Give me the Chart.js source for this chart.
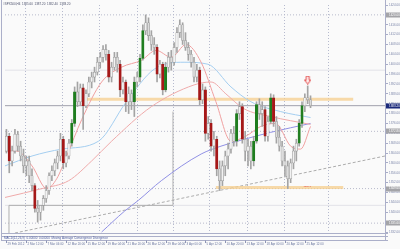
<!DOCTYPE html>
<html><head><meta charset="utf-8">
<script src="https://cdn.jsdelivr.net/npm/chart.js@4.4.1/dist/chart.umd.min.js"></script>
<style>html,body{margin:0;padding:0;background:#fafafa;overflow:hidden}#wrap{width:400px;height:249px;position:relative}</style>
</head><body><div id="wrap"><canvas id="c" width="400" height="249"></canvas></div>
<script>
// ---- candle data (H4) ----
const open = [1364.8,1370.8,1360.8,1364.8,1371.6,1366.8,1362.8,1358.8,1360.8,1354.8,
1350.8,1341.6,1340.0,1342.8,1345.6,1348.8,1354.8,1356.8,1360.0,1362.8,
1369.6,1360.0,1362.8,1368.0,1376.0,1388.8,1384.8,1390.4,1383.2,1388.0,
1392.8,1394.8,1396.8,1400.8,1402.8,1406.0,1404.0,1394.8,1398.8,1402.8,
1400.0,1389.6,1392.8,1384.8,1388.0,1384.8,1392.8,1394.8,1402.4,1413.6,
1416.8,1411.6,1408.0,1406.8,1396.0,1400.0,1389.6,1398.8,1402.8,1400.8,
1406.8,1412.8,1416.0,1409.6,1406.8,1404.0,1400.8,1394.8,1397.6,1385.6,
1389.6,1372.0,1376.0,1366.8,1369.6,1357.6,1352.8,1358.8,1362.8,1365.6,
1372.0,1368.8,1380.0,1382.8,1369.6,1364.8,1366.8,1360.8,1368.8,1383.6,
1380.0,1381.6,1370.8,1376.8,1386.4,1376.8,1370.4,1366.8,1360.8,1358.8,
1353.6,1360.0,1364.8,1368.0,1376.0,1383.2,1386.4,1385.6];
const high = [1373.6,1372.0,1366.8,1373.6,1372.8,1368.8,1365.6,1362.8,1362.8,1357.6,
1351.6,1344.8,1342.8,1346.8,1350.8,1356.0,1358.8,1361.6,1364.8,1372.0,
1370.8,1364.8,1369.6,1377.6,1390.8,1392.8,1392.0,1392.0,1389.6,1394.8,
1396.8,1398.8,1402.8,1404.8,1407.6,1408.0,1405.6,1400.8,1404.8,1404.8,
1401.6,1394.8,1393.6,1390.8,1389.6,1394.8,1396.8,1404.0,1416.0,1420.0,
1418.8,1413.6,1410.8,1408.0,1401.6,1400.8,1400.8,1404.8,1405.6,1408.8,
1414.8,1418.0,1416.8,1412.8,1408.8,1405.6,1402.8,1400.0,1398.8,1392.0,
1390.8,1378.8,1377.6,1372.8,1370.8,1360.8,1360.8,1364.8,1368.0,1373.6,
1374.8,1381.6,1384.8,1384.0,1372.8,1369.6,1368.8,1370.8,1384.8,1386.0,
1384.8,1382.8,1378.8,1388.0,1387.6,1378.8,1374.8,1368.8,1364.8,1360.8,
1361.6,1366.8,1369.6,1377.6,1384.8,1388.0,1391.2,1387.2];
const low = [1364.0,1356.0,1358.8,1364.0,1364.8,1360.8,1356.0,1354.8,1352.0,1348.8,
1340.0,1336.0,1336.8,1340.8,1344.0,1347.2,1352.8,1354.8,1357.6,1360.8,
1357.6,1358.4,1361.6,1366.8,1374.8,1382.8,1383.2,1373.6,1382.4,1386.8,
1390.4,1392.8,1395.6,1398.4,1400.8,1401.6,1392.8,1392.8,1397.6,1396.8,
1386.8,1388.0,1380.8,1380.0,1381.6,1378.8,1390.8,1392.8,1401.6,1412.0,
1409.6,1405.6,1404.0,1392.8,1394.4,1387.6,1388.8,1396.8,1397.6,1399.6,
1404.8,1410.8,1408.0,1405.6,1401.6,1398.8,1392.8,1392.8,1383.6,1384.0,
1368.8,1369.6,1364.8,1362.8,1354.8,1348.8,1350.8,1354.8,1357.6,1364.0,
1366.8,1366.8,1377.6,1368.0,1360.8,1358.8,1357.6,1358.8,1368.0,1377.6,
1374.8,1368.8,1368.8,1376.0,1374.8,1368.0,1364.8,1358.8,1354.8,1349.6,
1352.0,1357.6,1360.8,1366.8,1374.4,1380.8,1384.0,1382.4];
const close = [1370.8,1360.8,1364.8,1371.6,1366.8,1362.8,1358.8,1360.8,1354.8,1350.8,
1341.6,1340.0,1342.8,1345.6,1348.8,1354.8,1356.8,1360.0,1362.8,1369.6,
1360.0,1362.8,1368.0,1376.0,1388.8,1384.8,1390.4,1383.2,1388.0,1392.8,
1394.8,1396.8,1400.8,1402.8,1406.0,1404.0,1394.8,1398.8,1402.8,1400.0,
1389.6,1392.8,1384.8,1388.0,1384.8,1392.8,1394.8,1402.4,1413.6,1416.8,
1411.6,1408.0,1406.8,1396.0,1400.0,1389.6,1398.8,1402.8,1400.8,1406.8,
1412.8,1416.0,1409.6,1406.8,1404.0,1400.8,1394.8,1397.6,1385.6,1389.6,
1372.0,1376.0,1366.8,1369.6,1357.6,1352.8,1358.8,1362.8,1365.6,1372.0,
1368.8,1380.0,1382.8,1369.6,1364.8,1366.8,1360.8,1368.8,1383.6,1380.0,
1381.6,1370.8,1376.8,1386.4,1376.8,1370.4,1366.8,1360.8,1358.8,1353.6,
1360.0,1364.8,1368.0,1376.0,1383.2,1386.4,1385.6,1383.2];

// ---- axis labels ----
const dateLabels = ["29 Feb 2012","2 Mar 12:00","7 Mar 04:00","12 Mar 20:00","15 Mar 12:00","19 Mar 04:00","21 Mar 20:00","26 Mar 12:00","29 Mar 04:00","3 Apr 00:00","5 Apr 12:00","10 Apr 20:00","13 Apr 12:00","18 Apr 00:00","20 Apr 12:00","25 Apr 12:00"];
const dateTickBars = [0,7,14,21,28,35,42,49,56,63,70,77,84,91,98,105];
const priceTicks = [1424,1420,1416,1412,1408,1404,1400,1396,1392,1388,1384,1380,1376,1372,1368,1364,1360,1356,1352,1348,1344,1340,1336,1332];
const gridBars = [6.5,19.5,32.4,46.1,58.7,71.3,84.6,97.5,113.3];

// ---- moving averages ----
const maFastBar = [-0.5,3.7,9.0,14.2,17.7,21.2,26.5,33.5,40.5,47.5,52.7,58.0,63.2,68.5,73.7,79.0,84.2,89.5,94.7,100.0,103.5,107];
const maFastVal = [1364.8,1364.8,1358.8,1349.6,1353.6,1362.8,1377.6,1392.8,1398.8,1401.6,1405.6,1402.8,1408.0,1400.8,1384.8,1368.8,1370.8,1374.8,1376.0,1366.8,1365.6,1374.8];
const maSlowBar = [-0.5,12.5,21.9,30.0,37.0,51.0,66.0,72.0,77.2,83.5,93.0,107];
const maSlowVal = [1346.0,1349.6,1352.8,1360.8,1368.8,1382.8,1391.6,1392.8,1388.0,1382.0,1378.8,1375.6];
const maMidBar = [-0.5,9.0,19.5,32.4,42.2,52.0,62.5,70.9,79.0,86.0,96.5,107];
const maMidVal = [1358.8,1362.8,1365.6,1368.8,1384.8,1398.0,1400.8,1400.0,1390.8,1384.8,1380.8,1378.4];
const maLongBar = [33.5,41.5,46.4,54.5,68.5,75.5,82.5,93.0,107];
const maLongVal = [1332.0,1340.4,1344.8,1352.8,1363.6,1366.8,1369.2,1372.4,1376.0];

// ---- drawn objects ----
const currentPrice = 1383.2;
const resistBand = {from: 28.2, to: 122, price: 1385.8};
const supportBand = {from: 73.7, to: 118.5, price: 1350.0};
const pivotLevels = [1420.0, 1372.8, 1349.6, 1335.6];
const faintLevels = [1397.6, 1342.8];
const trendBars = [3.0, 133.2];
const trendVals = [1331.6, 1362.8];
const bracketBars = [0.9, 0.9, 58.6, 58.6];
const bracketVals = [1331.6, 1342.8, 1342.8, 1380.8];
const arrowBar = 106, arrowVal = 1393.6;
const xMin = -0.5, xMax = 133.2;

const bars = open.map((_, i) => i);
const bigMove = 7;
const isBig = i => Math.abs(close[i] - open[i]) >= bigMove;
const bodyColors = bars.map(i => {
  const up = close[i] > open[i];
  if (isBig(i)) return up ? '#1f7d1f' : '#a51818';
  return up ? '#f2f2f2' : '#dcdcdc';
});
const bodyBorders = bars.map(i => isBig(i) ? bodyColors[i] : '#9a9a9a');
const pts = (xs, ys) => xs.map((x, k) => ({x, y: ys[k]}));
const hline = (a, b, v) => [{x: a, y: v}, {x: b, y: v}];

const arrow = document.createElement('canvas'); arrow.width = 7; arrow.height = 9;
(() => { const a = arrow.getContext('2d'); a.strokeStyle = '#e04040'; a.lineWidth = 1; a.fillStyle = '#fff4f4';
  a.beginPath(); a.moveTo(2, 0.5); a.lineTo(5, 0.5); a.lineTo(5, 4.5); a.lineTo(6.5, 4.5); a.lineTo(3.5, 8.5); a.lineTo(0.5, 4.5); a.lineTo(2, 4.5); a.closePath(); a.fill(); a.stroke(); })();

const FONT = 'Liberation Sans';
const lineDs = (data, color, order, extra) => Object.assign({type: 'line', data, borderColor: color, borderWidth: 1, pointRadius: 0, fill: false, order}, extra || {});

const datasets = [
  {type: 'bar', data: bars.map(i => ({x: i, y: [low[i], high[i]]})), backgroundColor: '#a4a4a4', barThickness: 1, grouped: false, order: 2},
  {type: 'bar', data: bars.map(i => ({x: i, y: [open[i], close[i]]})), backgroundColor: bodyColors, borderColor: bodyBorders, borderWidth: 0.6, borderSkipped: false, barThickness: 2.4, grouped: false, order: 1},
  lineDs(pts(maFastBar, maFastVal), '#f0a0a0', 4, {cubicInterpolationMode: 'monotone'}),
  lineDs(pts(maSlowBar, maSlowVal), '#efaaaa', 4, {cubicInterpolationMode: 'monotone'}),
  lineDs(pts(maMidBar, maMidVal), '#a4cef0', 4, {cubicInterpolationMode: 'monotone'}),
  lineDs(pts(maLongBar, maLongVal), '#9090e4', 4, {cubicInterpolationMode: 'monotone'}),
  lineDs(hline(resistBand.from, resistBand.to, resistBand.price), 'rgba(245,205,140,0.75)', 5, {borderWidth: 3}),
  lineDs(hline(supportBand.from, supportBand.to, supportBand.price), 'rgba(245,205,140,0.75)', 5, {borderWidth: 3}),
  lineDs(hline(xMin, xMax, currentPrice), '#a0a0ac', 6),
  lineDs(pts(trendBars, trendVals), '#acacac', 6, {borderDash: [3, 2]}),
  lineDs(pts(bracketBars, bracketVals), '#b0b0b0', 6),
  ...pivotLevels.map(v => lineDs(hline(xMin, xMax, v), '#b8bacb', 7, {borderDash: [1, 2]})),
  ...faintLevels.map(v => lineDs(hline(xMin, xMax, v), '#e2e2e8', 7)),
  {type: 'line', data: [{x: arrowBar, y: arrowVal}], showLine: false, pointStyle: arrow, pointRadius: 4, order: 0}
];

const decor = {
  id: 'decor',
  beforeDatasetsDraw(chart) {
    const {ctx, chartArea: a, scales: {x}} = chart;
    ctx.save();
    ctx.strokeStyle = '#b6bace'; ctx.lineWidth = 1; ctx.setLineDash([1, 2]);
    gridBars.forEach(b => { const px = Math.round(x.getPixelForValue(b)) + 0.5;
      ctx.beginPath(); ctx.moveTo(px, a.top); ctx.lineTo(px, a.bottom); ctx.stroke(); });
    ctx.restore();
  },
  afterDraw(chart) {
    const {ctx, chartArea: a, scales: {x, y}} = chart;
    ctx.save();
    ctx.strokeStyle = '#abafc9'; ctx.lineWidth = 1;
    ctx.beginPath();
    ctx.moveTo(1.5, 0); ctx.lineTo(1.5, 240.5);
    ctx.moveTo(a.right + 0.5, 0); ctx.lineTo(a.right + 0.5, 240.5);
    ctx.moveTo(1, a.bottom + 0.5); ctx.lineTo(388, a.bottom + 0.5);
    ctx.moveTo(1, 236.5); ctx.lineTo(388, 236.5);
    ctx.moveTo(1, 240.5); ctx.lineTo(388, 240.5);
    ctx.stroke();
    // date labels along the time axis
    ctx.font = '3px "' + FONT + '"'; ctx.textBaseline = 'middle'; ctx.textAlign = 'left';
    ctx.strokeStyle = '#8c94b4';
    dateTickBars.forEach((b, k) => {
      const px = Math.round(x.getPixelForValue(b)) + 0.5;
      ctx.beginPath(); ctx.moveTo(px, 240.5); ctx.lineTo(px, 243); ctx.stroke();
      ctx.fillStyle = '#6c78a0'; ctx.fillText(dateLabels[k], px + 1, 244.2);
    });
    const box = (v, bg) => { const py = y.getPixelForValue(v);
      ctx.fillStyle = bg; ctx.fillRect(a.right + 1, Math.round(py) - 2.5, 15, 5);
      ctx.fillStyle = '#ffffff'; ctx.fillText(v.toFixed(2), a.right + 4, py); };
    pivotLevels.forEach(v => box(v, '#a4a4a8'));
    box(currentPrice, '#1b2a7b');
    ctx.fillStyle = '#4a4f6a';
    ctx.fillText('#SPX500,H4  1385.60  1387.20  1382.40  1383.20', 3, 4);
    ctx.fillStyle = '#5060a0';
    ctx.fillText('MACD(12,26,9)  0.00000  0.00000  Moving Average Convergence Divergence', 4, 238.6);
    ctx.fillStyle = '#e05050'; ctx.font = '2.5px "' + FONT + '"';
    ctx.fillText(supportBand.price.toFixed(1), x.getPixelForValue(104.5), y.getPixelForValue(supportBand.price) - 1.5);
    ctx.restore();
  }
};

new Chart(document.getElementById('c'), {
  type: 'bar',
  data: {datasets},
  options: {
    responsive: false, animation: false, devicePixelRatio: 1,
    layout: {padding: {left: 3, top: 2, right: 0, bottom: 0}},
    plugins: {legend: {display: false}, tooltip: {enabled: false}},
    scales: {
      x: {type: 'linear', min: xMin, max: xMax, offset: false,
        grid: {display: false}, border: {display: false},
        afterBuildTicks: s => { s.ticks = dateTickBars.map(v => ({value: v})); },
        afterFit: s => { s.height = 16; },
        ticks: {display: false}},
      y: {type: 'linear', position: 'right', min: 1331.6, max: 1424.0, beginAtZero: false,
        grid: {display: true, drawOnChartArea: false, drawTicks: true, tickLength: 3, color: '#a8acc8'},
        border: {display: false},
        afterBuildTicks: s => { s.ticks = priceTicks.map(v => ({value: v})); },
        afterFit: s => { s.width = 15; },
        ticks: {padding: 1, color: '#7a84a8', font: {size: 3, family: FONT}, callback: v => v.toFixed(2)}}
    }
  },
  plugins: [decor]
});
</script></body></html>
